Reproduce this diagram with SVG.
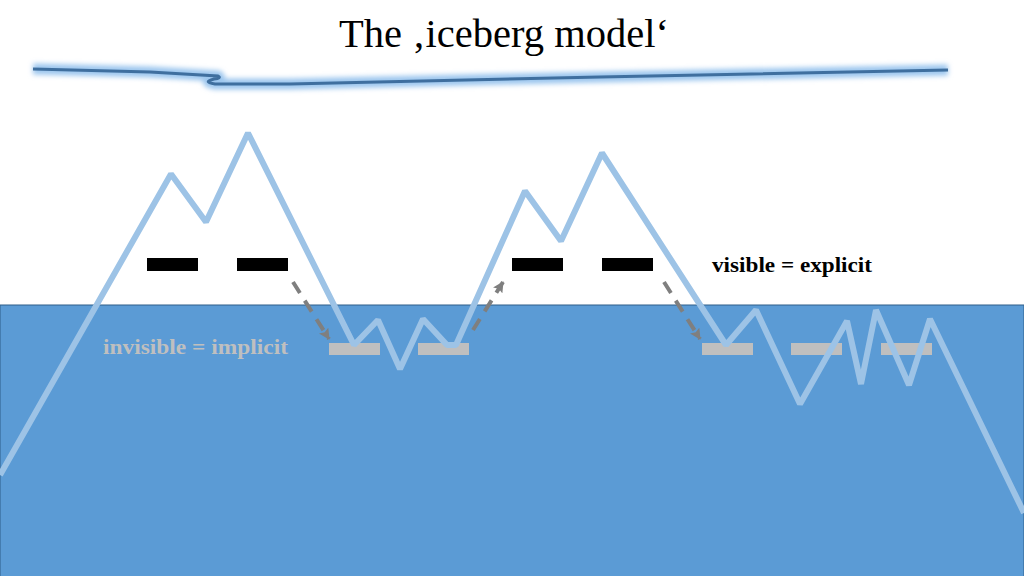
<svg xmlns="http://www.w3.org/2000/svg" width="1024" height="576" viewBox="0 0 1024 576">
<style>
.serif{font-family:"Liberation Serif","DejaVu Serif",serif}
.lab{font-size:21px;font-weight:700}
.blk{fill:#000}
.gry{fill:#bfbfbf}
.dash{fill:none;stroke:#7f7f7f;stroke-width:4;stroke-dasharray:13 9;marker-end:url(#ah)}
.ice{fill:none;stroke:#9dc3e6;stroke-width:6;stroke-linejoin:bevel}
</style>
<defs>
<marker id="ah" markerUnits="userSpaceOnUse" markerWidth="12" markerHeight="12" refX="10" refY="5.5" orient="auto"><path d="M0 0L11 5.5L0 11L2 5.5Z" fill="#7f7f7f"/></marker>
<filter id="glow" x="-5%" y="-200%" width="110%" height="500%"><feGaussianBlur stdDeviation="2.5"/></filter>
</defs>
<rect width="1024" height="576" fill="#fff"/>
<g id="water"><rect x="0" y="305" width="1024" height="272" fill="#5b9bd5" stroke="#2f5f8a" stroke-width="1"/></g>
<g id="title"><text class="serif" x="504" y="47" font-size="40" text-anchor="middle" textLength="330" lengthAdjust="spacingAndGlyphs" fill="#000">The ‚iceberg model‘</text></g>
<g id="horizon">
<path d="M33 69L150 72L218 76Q222 78 214 79Q202 82 215 84L290 84L600 77L948 70" fill="none" stroke="#9cc6ee" stroke-width="11" filter="url(#glow)"/>
<path d="M33 69L150 72L218 76Q222 78 214 79Q202 82 215 84L290 84L600 77L948 70" fill="none" stroke="#3f6f9f" stroke-width="3"/>
</g>
<g id="black-bars">
<rect class="blk" x="147" y="258" width="51" height="13"/>
<rect class="blk" x="237" y="258" width="51" height="13"/>
<rect class="blk" x="512" y="258" width="51" height="13"/>
<rect class="blk" x="602" y="258" width="51" height="13"/>
</g>
<g id="grey-bars">
<rect class="gry" x="329" y="343" width="51" height="12"/>
<rect class="gry" x="418" y="343" width="51" height="12"/>
<rect class="gry" x="702" y="343" width="51" height="12"/>
<rect class="gry" x="791" y="343" width="51" height="12"/>
<rect class="gry" x="881" y="343" width="51" height="12"/>
</g>
<g id="iceberg"><polyline class="ice" points="0,475 171,174 206,222 248,133 354,345 378,320 400,369 423,319 447,345 456,345 525,191 561,241 602,153 726,345 756,310 800,404 847,321 861,384 876,310 909,385 930,319 1024,513"/></g>
<g id="connectors">
<path class="dash" d="M293 282L329 339"/>
<path class="dash" d="M473 330L503 282"/>
<path class="dash" d="M664 282L700 339"/>
</g>
<g id="label-visible"><text class="serif lab" x="712" y="272" textLength="160" lengthAdjust="spacingAndGlyphs" fill="#000">visible = explicit</text></g>
<g id="label-invisible"><text class="serif lab" x="103" y="354" textLength="185" lengthAdjust="spacingAndGlyphs" fill="#bfbfbf">invisible = implicit</text></g>
</svg>
